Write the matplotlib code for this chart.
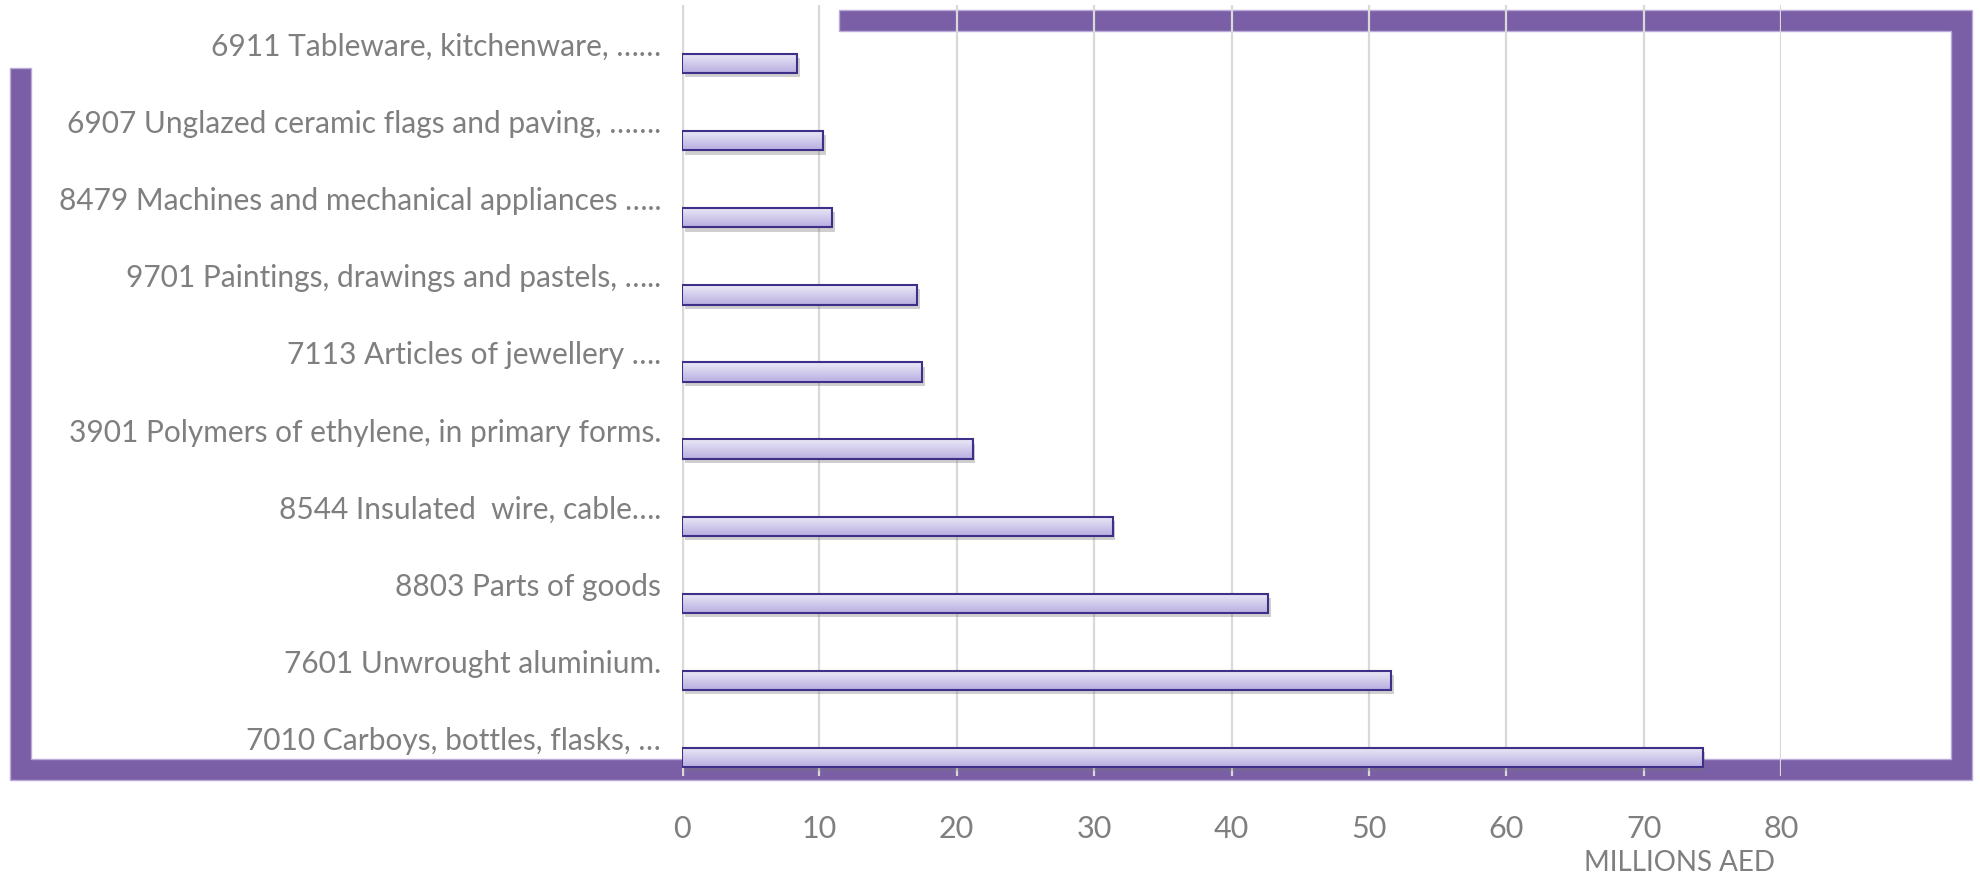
import numpy as np
import matplotlib
matplotlib.use("Agg")
import matplotlib.pyplot as plt
from matplotlib.patches import Polygon
import matplotlib.patheffects as pe

categories = [
    "6911 Tableware, kitchenware, ……",
    "6907 Unglazed ceramic flags and paving, …….",
    "8479 Machines and mechanical appliances …..",
    "9701 Paintings, drawings and pastels, …..",
    "7113 Articles of jewellery ….",
    "3901 Polymers of ethylene, in primary forms.",
    "8544 Insulated  wire, cable….",
    "8803 Parts of goods",
    "7601 Unwrought aluminium.",
    "7010 Carboys, bottles, flasks, …",
]
values = [8.4, 10.25, 10.95, 17.1, 17.5, 21.15, 31.35, 42.65, 51.6, 74.3]
xticks = [0, 10, 20, 30, 40, 50, 60, 70, 80]
xlabel = "MILLIONS AED"

W, H = 1981, 879
plt.rcParams['font.family'] = ['Lato', 'DejaVu Sans']
fig = plt.figure(figsize=(W / 100, H / 100), dpi=100)

# background decorative frame (pixel coords)
bg = fig.add_axes([0, 0, 1, 1], zorder=0)
bg.set_xlim(0, W)
bg.set_ylim(H, 0)
bg.axis('off')
frame = [(10, 69), (10, 781), (1972, 781), (1972, 11), (839, 11), (839, 32),
         (1951, 32), (1951, 760), (31, 760), (31, 69)]
bg.add_patch(Polygon(frame, closed=True, facecolor='#7A5FA6',
                     edgecolor='#B9AAD9', linewidth=1.0))

# main chart
left, right = 682 / W, 1781 / W
bottom, top = 1 - 777 / H, 1 - 6 / H
ax = fig.add_axes([left, bottom, right - left, top - bottom], zorder=1)
ax.set_facecolor('none')

n = len(categories)
ypos = np.arange(n)[::-1]  # first category at top
offset = 0.26
bh = 0.25

ax.set_xlim(0, 80)
ax.set_ylim(-0.5, n - 0.5)
for x in xticks:
    ax.axvline(x, color='#D9D9D9', lw=1.6 if x else 2.4, zorder=0.5)

bars = ax.barh(ypos - offset, values, height=bh, facecolor='none',
               edgecolor='#3F2F88', linewidth=1.5, zorder=3)

grad = np.linspace(0, 1, 64).reshape(-1, 1)
c_top = np.array([0xEC, 0xEA, 0xF7]) / 255
c_bot = np.array([0xB8, 0xAE, 0xE0]) / 255
img = (c_top[None, None, :] * (1 - grad[..., None]) + c_bot[None, None, :] * grad[..., None])
for b in bars:
    x0, y0 = b.get_x(), b.get_y()
    w, h = b.get_width(), b.get_height()
    sh = plt.Rectangle((x0, y0), w, h, facecolor='#000000', alpha=0.0, zorder=2)
    ax.add_patch(sh)
    sh.set_path_effects([pe.SimplePatchShadow(offset=(2, -3), shadow_rgbFace='#777777', alpha=0.35)])
    im = ax.imshow(img, extent=[x0, x0 + w, y0, y0 + h], origin='upper',
                   aspect='auto', zorder=2.5, interpolation='bilinear')
    im.set_clip_path(b)

ax.set_xlim(0, 80)
ax.set_ylim(-0.5, n - 0.5)
ax.set_xticks(xticks)
ax.set_yticks(ypos)
ax.set_yticklabels(categories)
for s in ax.spines.values():
    s.set_visible(False)
ax.tick_params(axis='both', length=0, labelsize=21.5, colors='#7F7F7F')
ax.tick_params(axis='x', labelsize=22)
ax.tick_params(axis='y', pad=15)
ax.tick_params(axis='x', pad=27)

fig.text(1680 / W, 1 - 863 / H, xlabel, ha='center', va='center',
         fontsize=20, color='#7F7F7F')

fig.savefig('out.png', dpi=100)
